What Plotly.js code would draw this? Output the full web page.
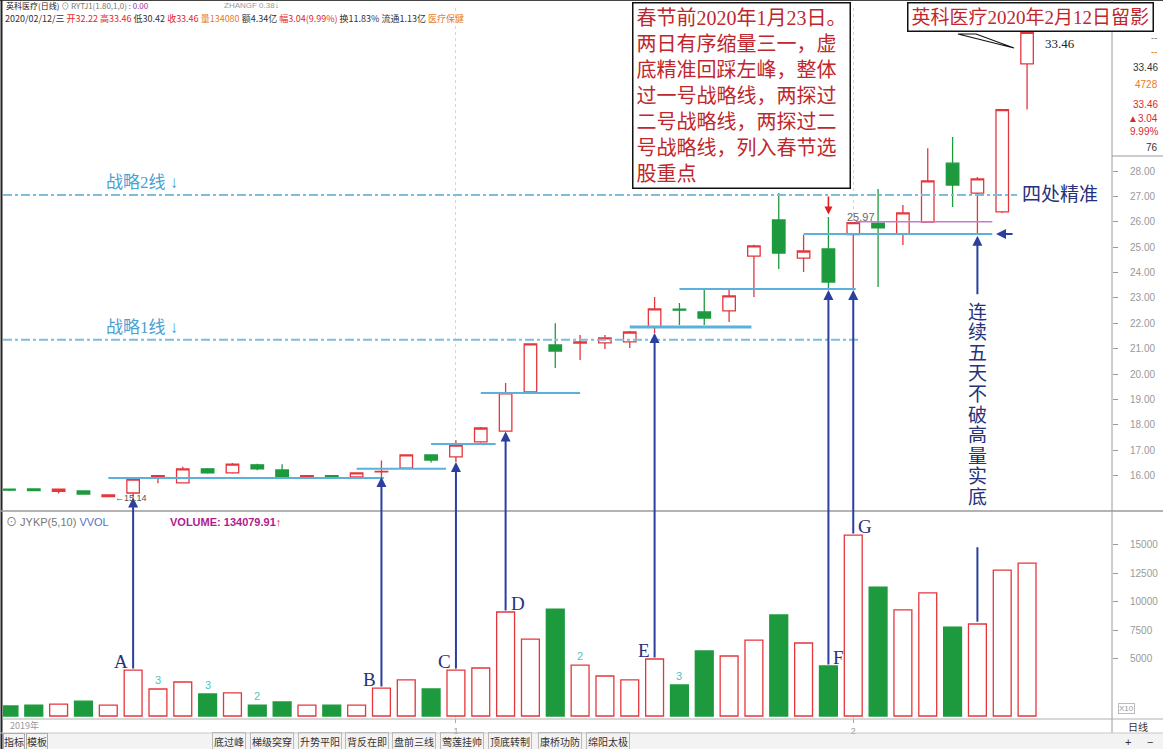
<!DOCTYPE html>
<html><head><meta charset="utf-8">
<script src="https://cdn.plot.ly/plotly-3.0.1.min.js"></script>
<style>html,body{margin:0;padding:0;background:#fff}#chart{width:1163px;height:749px}</style>
</head><body><div id="chart"></div>
<script>
// ---------- DATA ----------
const dates = ['2019-12-06','2019-12-09','2019-12-10','2019-12-11','2019-12-12','2019-12-13','2019-12-16','2019-12-17','2019-12-18','2019-12-19','2019-12-20','2019-12-23','2019-12-24','2019-12-25','2019-12-26','2019-12-27','2019-12-30','2019-12-31',
'2020-01-02','2020-01-03','2020-01-06','2020-01-07','2020-01-08','2020-01-09','2020-01-10','2020-01-13','2020-01-14','2020-01-15','2020-01-16','2020-01-17','2020-01-20','2020-01-21','2020-01-22','2020-01-23',
'2020-02-03','2020-02-04','2020-02-05','2020-02-06','2020-02-07','2020-02-10','2020-02-11','2020-02-12'];
const openP  = [15.47,15.48,15.38,15.40,15.18,15.32,15.91,15.72,16.27,16.11,16.43,16.23,15.95,16.00,15.95,16.15,16.30,16.82,16.74,17.33,17.76,19.30,21.15,21.22,21.23,21.27,21.86,22.56,22.45,22.49,24.65,26.07,24.57,24.93,25.50,25.95,25.52,25.99,28.31,27.13,26.39,32.22];
const highP  = [15.50,15.50,15.50,15.42,15.25,15.87,16.02,16.35,16.30,16.50,16.47,16.45,16.02,16.03,16.13,16.60,16.85,16.85,17.40,17.92,19.65,21.19,22.00,21.54,21.54,21.70,23.04,22.80,23.35,23.35,25.10,27.13,25.48,26.19,25.97,27.29,26.66,28.90,29.34,27.76,30.42,33.46];
const lowP   = [15.40,15.40,15.30,15.26,15.15,15.14,15.70,15.70,16.08,16.08,16.22,15.88,15.90,15.92,15.93,15.95,16.28,16.52,16.54,17.30,17.74,19.28,20.24,20.56,20.99,21.03,21.62,21.94,21.94,22.05,23.04,24.14,24.02,23.31,23.31,23.43,25.09,25.97,26.58,25.55,26.35,30.42];
const closeP = [15.43,15.41,15.47,15.28,15.24,15.87,16.00,16.27,16.11,16.46,16.27,15.91,16.00,15.95,16.11,16.17,16.82,16.62,17.21,17.88,19.26,21.19,20.91,21.27,21.43,21.66,22.57,22.52,22.21,23.08,25.05,24.77,24.85,23.63,25.97,25.76,26.35,27.61,27.45,27.69,30.42,33.46];
const volume = [880,960,1050,1300,960,4030,2370,2980,1930,2020,960,1230,960,960,960,2450,3160,2370,4030,4210,9120,6750,9380,4470,3510,3160,5000,2720,5700,5260,6660,8860,6400,4390,15870,11310,9300,10790,7800,8070,12800,13408];
const priceTicks = [16,17,18,19,20,21,22,23,24,25,26,27,28];
const priceGrid  = [16,18,20,22,24,26,28,30,32];
const volTicks = [5000,7500,10000,12500,15000];
const volGrid  = [5000,10000,15000];
// marked days (A..G) and their labels
const markIdx    = [5,15,18,20,26,33,34];
const markLabels = ['A','B','C','D','E','F','G'];
const markSide   = ['left','left','left','right','left','right','right'];
// small counters above volume bars
const countIdx  = [6,8,10,23,27];
const countText = ['3','3','2','2','3'];
// support lines (index span and price level)
const supStart = [4.0,14.0,17.0,19.0,25.0,27.0,32.0];
const supEnd   = [15.1,17.6,19.6,23.0,29.9,34.1,39.6];
const supLevel = [15.91,16.27,17.25,19.26,21.86,23.35,25.52];
const supWidth = [2,2,2,2,3,2,2];
const pinkLevel = 26.0, pinkStart = 34.1, pinkEnd = 39.6;
// strategic lines
const stratLevel = [27.06,21.35];
const stratEnd   = [40.6,34.3];
const stratText  = ['战略2线 ↓','战略1线 ↓'];
const baseIdx = 39; // 连续五天不破高量实底
const vertText = '连续五天不破高量实底';
const tabs = ['底过峰','梯级突穿','升势平阳','背反在即','盘前三线','莺莲挂帅','顶底转制','康桥功防','绵阳太极'];
const tabCenters = [229,272,320,367,414,462,510,560,608];

// ---------- GEOMETRY ----------
const W=1163,H=749;
const PX_L=3, PX_R=1112;
const X_RANGE=[-0.24,44.42];
const PRICE_PX=[8,510], PRICE_RANGE=[14.65,34.42];
const VOL_PX=[512,718], VOL_RANGE=[-175,17890];
const fx = px => px/W, fy = px => 1 - px/H;
const pyPrice = p => PRICE_PX[0] + (PRICE_RANGE[1]-p)/(PRICE_RANGE[1]-PRICE_RANGE[0])*(PRICE_PX[1]-PRICE_PX[0]);
const pyVol = v => VOL_PX[0] + (VOL_RANGE[1]-v)/(VOL_RANGE[1]-VOL_RANGE[0])*(VOL_PX[1]-VOL_PX[0]);

const idx = dates.map((d,i)=>i);
const RED='#e5363c', GREEN='#1e9a3e', NAVY='#2b3f9e', LBLUE='#5cb0dc';
const monthIdx=[], monthText=[];
dates.forEach((d,i)=>{ if(i>0 && d.slice(5,7)!==dates[i-1].slice(5,7)){ monthIdx.push(i); monthText.push(String(parseInt(d.slice(5,7)))); } });

const up = idx.map(i=>closeP[i]>=openP[i]);

const traces = [
 {type:'candlestick', x:idx, open:openP, high:highP, low:lowP, close:closeP, xaxis:'x', yaxis:'y',
  increasing:{line:{color:RED,width:1.3},fillcolor:'#ffffff'},
  decreasing:{line:{color:GREEN,width:1.3},fillcolor:GREEN},
  whiskerwidth:0, hoverinfo:'skip', showlegend:false},
 {type:'bar', x:idx, y:volume, xaxis:'x2', yaxis:'y2', width:0.72,
  marker:{color:idx.map(i=>up[i]?'#ffffff':GREEN), line:{color:idx.map(i=>up[i]?RED:GREEN), width:1.3}},
  hoverinfo:'skip', showlegend:false}
];

const shapes = [];
const annotations = [];
const SERIF = "Liberation Serif, 'Noto Sans CJK SC', serif";
const SANS = "'Liberation Sans', 'Noto Sans CJK SC', sans-serif";
const CJK = "'Noto Sans CJK SC', sans-serif";

// frame
const pl = (x0,y0,x1,y1,color,width,dash)=>shapes.push({type:'line',xref:'paper',yref:'paper',x0:fx(x0),y0:fy(y0),x1:fx(x1),y1:fy(y1),line:{color,width,dash:dash||'solid'},layer:'above'});
shapes.push({type:'rect',xref:'paper',yref:'paper',x0:0,x1:1,y0:fy(749),y1:fy(733),fillcolor:'#f3f3f3',line:{width:0},layer:'below'});
pl(0,0.5,1163,0.5,'#444',1);
pl(1.5,0,1.5,749,'#222',2);
pl(1112,0,1112,733,'#9a9a9a',1);
pl(0,511,1163,511,'#9a9a9a',1.5);
pl(1112,156,1163,156,'#9a9a9a',1);
pl(3,719,1163,719,'#b0b0b0',1);
pl(0,733,1163,733,'#c8c8c8',1);

// support lines
supLevel.forEach((lv,k)=>shapes.push({type:'line',xref:'x',yref:'y',x0:supStart[k],x1:supEnd[k],y0:lv,y1:lv,line:{color:LBLUE,width:supWidth[k]}}));
shapes.push({type:'line',xref:'x',yref:'y',x0:pinkStart,x1:pinkEnd,y0:pinkLevel,y1:pinkLevel,line:{color:'#c77bd0',width:1.5}});
// strategic lines
stratLevel.forEach((lv,k)=>{
  shapes.push({type:'line',xref:'x',yref:'y',x0:X_RANGE[0],x1:stratEnd[k],y0:lv,y1:lv,line:{color:'#7cbde0',width:2,dash:'dashdot'}});
  annotations.push({xref:'paper',yref:'y',x:fx(104),y:lv,yshift:12,xanchor:'left',yanchor:'middle',text:stratText[k],showarrow:false,font:{family:SERIF,size:17,color:'#4a9fd3'}});
});

// arrows from volume bars up to candles
markIdx.forEach((i,k)=>{
  annotations.push({xref:'x',yref:'y',x:i,y:lowP[i],ax:0,ay:pyVol(volume[i])-pyPrice(lowP[i]),axref:'pixel',ayref:'pixel',
    showarrow:true,arrowhead:2,arrowsize:1,arrowwidth:2,arrowcolor:NAVY,text:'',standoff:0,startstandoff:0});
  const right = markSide[k]==='right';
  annotations.push({xref:'x',yref:'y2',x:i+(right?0.12:-0.12),y:volume[i],xanchor:right?'left':'right',yanchor:'bottom',yshift:-4,
    text:markLabels[k],showarrow:false,font:{family:SERIF,size:19,color:'#26317a'}});
});
// 连续五天 arrow
annotations.push({xref:'x',yref:'y',x:baseIdx,y:lowP[baseIdx]-0.1,ax:0,ay:60,axref:'pixel',ayref:'pixel',showarrow:true,arrowhead:2,arrowsize:1,arrowwidth:2,arrowcolor:NAVY,text:''});
shapes.push({type:'line',xref:'x',yref:'y2',x0:baseIdx,x1:baseIdx,y0:volume[baseIdx]+200,y1:14800,line:{color:NAVY,width:2}});
Array.from(vertText).forEach((ch,k)=>annotations.push({xref:'x',yref:'paper',x:baseIdx,y:fy(312+k*20.6),xanchor:'center',yanchor:'middle',text:ch,showarrow:false,font:{family:SERIF,size:19,color:'#26317a'}}));
// left-pointing arrow at support level
annotations.push({xref:'x',yref:'y',x:39.75,y:supLevel[6],ax:18,ay:0,axref:'pixel',ayref:'pixel',showarrow:true,arrowhead:2,arrowsize:1,arrowwidth:2,arrowcolor:NAVY,text:''});
// red arrow at Jan 23
annotations.push({xref:'x',yref:'y',x:33,y:highP[33]+0.1,ax:0,ay:pyPrice(stratLevel[0])-pyPrice(highP[33]+0.1),axref:'pixel',ayref:'pixel',showarrow:true,arrowhead:2,arrowsize:1,arrowwidth:1.6,arrowcolor:'#e02020',text:''});

// value labels
annotations.push({xref:'x',yref:'y',x:41,y:highP[41],xshift:16,xanchor:'left',yanchor:'top',yshift:-2,text:highP[41].toFixed(2),showarrow:false,font:{family:SERIF,size:13,color:'#222'}});
annotations.push({xref:'x',yref:'y',x:34,y:highP[34],xshift:-8,xanchor:'left',yanchor:'bottom',yshift:-2,text:highP[34].toFixed(2),showarrow:false,font:{family:SANS,size:11,color:'#666'}});
annotations.push({xref:'x',yref:'y',x:5,y:lowP[5],xanchor:'center',yanchor:'middle',xshift:-2,text:'←'+lowP[5].toFixed(2),showarrow:false,font:{family:SANS,size:9,color:'#555'}});

// counters
countIdx.forEach((i,k)=>annotations.push({xref:'x',yref:'y2',x:i,y:volume[i],yanchor:'bottom',yshift:1,text:countText[k],showarrow:false,font:{family:SANS,size:11,color:'#4fc4c4'}}));

// text boxes
annotations.push({xref:'paper',yref:'paper',x:fx(632),y:fy(2),xanchor:'left',yanchor:'top',align:'left',showarrow:false,
  text:'春节前2020年1月23日。<br>两日有序缩量三一，虚<br>底精准回踩左峰，整体<br>过一号战略线，两探过<br>二号战略线，两探过二<br>号战略线，列入春节选<br>股重点',
  font:{family:SERIF,size:20,color:'#c0272d'},bgcolor:'#ffffff',bordercolor:'#111',borderwidth:1.5,borderpad:3});
shapes.push({type:'path',xref:'paper',yref:'paper',path:`M ${fx(958)} ${fy(34)} L ${fx(1014)} ${fy(48)} L ${fx(976)} ${fy(34)} Z`,fillcolor:'#ffffff',line:{color:'#111',width:1.2},layer:'above'});
annotations.push({xref:'paper',yref:'paper',x:fx(907),y:fy(2),xanchor:'left',yanchor:'top',showarrow:false,
  text:'英科医疗2020年2月12日留影',font:{family:SERIF,size:19,color:'#c0272d'},bgcolor:'#ffffff',bordercolor:'#111',borderwidth:1.5,borderpad:3});
annotations.push({xref:'paper',yref:'y',x:fx(1020),y:stratLevel[0],xanchor:'left',yanchor:'middle',showarrow:false,text:'四处精准',font:{family:SERIF,size:19,color:'#26317a'}});

// header
annotations.push({xref:'paper',yref:'paper',x:fx(4),y:fy(6),xanchor:'left',yanchor:'middle',showarrow:false,
  text:'<span style="color:#222">英科医疗(日线)</span> <span style="color:#777">⊙ RYTJ1(1.80,1,0)</span> <span style="color:#a030a0">: 0.00</span>',font:{family:CJK,size:8}});
annotations.push({xref:'paper',yref:'paper',x:fx(222),y:fy(6),xanchor:'left',yanchor:'middle',showarrow:false,
  text:'<span style="color:#999">ZHANGF 0.38</span><span style="color:#1e9a3e">↓</span>',font:{family:SANS,size:8}});
annotations.push({xref:'paper',yref:'paper',x:fx(3),y:fy(19),xanchor:'left',yanchor:'middle',showarrow:false,
  text:'<span style="color:#333">2020/02/12/三</span> <span style="color:#e0282e">开32.22</span> <span style="color:#e0282e">高33.46</span> <span style="color:#333">低30.42</span> <span style="color:#e0282e">收33.46</span> <span style="color:#e87a1e">量134080</span> <span style="color:#333">额4.34亿</span> <span style="color:#e0282e">幅3.04(9.99%)</span> <span style="color:#333">换11.83%</span> <span style="color:#333">流通1.13亿</span> <span style="color:#e87a1e">医疗保健</span>',
  font:{family:CJK,size:9}});
// right info box
[['--',37,'#888'],['--',52,'#e87a1e'],['33.46',68,'#333'],['4728',84,'#e87a1e'],['33.46',104,'#e0282e'],['▲3.04',118,'#e0282e'],['9.99%',131,'#e0282e'],['76',147,'#333']]
 .forEach(t=>annotations.push({xref:'paper',yref:'paper',x:fx(1160),y:fy(t[1]),xanchor:'right',yanchor:'middle',showarrow:false,text:t[0],font:{family:SANS,size:10,color:t[2]}}));
// volume header
annotations.push({xref:'paper',yref:'paper',x:fx(4),y:fy(522),xanchor:'left',yanchor:'middle',showarrow:false,
  text:'<span style="color:#777">⊙ JYKP(5,10)</span> <span style="color:#5a6fc0">VVOL</span>',font:{family:SANS,size:11}});
annotations.push({xref:'paper',yref:'paper',x:fx(168),y:fy(522),xanchor:'left',yanchor:'middle',showarrow:false,
  text:'<b><span style="color:#b0208f">VOLUME: 134079.91</span></b><span style="color:#e0282e">↑</span>',font:{family:SANS,size:11}});
// bottom
annotations.push({xref:'paper',yref:'paper',x:fx(8),y:fy(725),xanchor:'left',yanchor:'middle',showarrow:false,text:'2019年',font:{family:CJK,size:9,color:'#999'}});
annotations.push({xref:'paper',yref:'paper',x:fx(3),y:fy(741),xanchor:'left',yanchor:'middle',showarrow:false,text:'指标',font:{family:CJK,size:10,color:'#333'},bordercolor:'#aaa',borderwidth:1,borderpad:0});
annotations.push({xref:'paper',yref:'paper',x:fx(26),y:fy(741),xanchor:'left',yanchor:'middle',showarrow:false,text:'模板',font:{family:CJK,size:10,color:'#333'},bordercolor:'#aaa',borderwidth:1,borderpad:0});
tabs.forEach((t,k)=>annotations.push({xref:'paper',yref:'paper',x:fx(tabCenters[k]),y:fy(741),xanchor:'center',yanchor:'middle',showarrow:false,text:t,font:{family:CJK,size:10,color:'#333'},bordercolor:'#bbb',borderwidth:1,borderpad:1}));
annotations.push({xref:'paper',yref:'paper',x:fx(1126),y:fy(708),xanchor:'center',yanchor:'middle',showarrow:false,text:'X10',font:{family:SANS,size:8,color:'#999'},bordercolor:'#bbb',borderwidth:1,borderpad:0});
annotations.push({xref:'paper',yref:'paper',x:fx(1138),y:fy(726),xanchor:'center',yanchor:'middle',showarrow:false,text:'日线',font:{family:CJK,size:10,color:'#333'}});
annotations.push({xref:'paper',yref:'paper',x:fx(1128),y:fy(742),xanchor:'center',yanchor:'middle',showarrow:false,text:'+',font:{family:SANS,size:11,color:'#333'}});
annotations.push({xref:'paper',yref:'paper',x:fx(1150),y:fy(742),xanchor:'center',yanchor:'middle',showarrow:false,text:'−',font:{family:SANS,size:11,color:'#333'}});

const tickFont = {family:SANS,size:10,color:'#9a9a9a'};
const layout = {
  width:W,height:H,margin:{l:0,r:0,t:0,b:0,autoexpand:false},
  paper_bgcolor:'#ffffff',plot_bgcolor:'#ffffff',showlegend:false,
  xaxis:{domain:[fx(PX_L),fx(PX_R)],range:X_RANGE,anchor:'y',tickvals:monthIdx,showticklabels:false,ticks:'',
    showgrid:true,gridcolor:'#d5d5d5',griddash:'dot',zeroline:false,showline:false,rangeslider:{visible:false},fixedrange:true},
  xaxis2:{domain:[fx(PX_L),fx(PX_R)],range:X_RANGE,anchor:'y2',tickvals:monthIdx,ticktext:monthText,ticks:'outside',ticklen:4,tickcolor:'#aaa',
    tickfont:{family:SANS,size:9,color:'#999'},showgrid:true,gridcolor:'#d5d5d5',griddash:'dot',zeroline:false,showline:false},
  yaxis:{domain:[fy(PRICE_PX[1]),fy(PRICE_PX[0])],range:PRICE_RANGE,anchor:'x',side:'right',tickvals:priceTicks,ticktext:priceTicks.map(v=>v.toFixed(2)),
    tickfont:tickFont,ticks:'outside',ticklen:5,tickcolor:'#999',ticklabelstandoff:10,showgrid:false,zeroline:false,showline:false,automargin:false},
  yaxis3:{overlaying:'y',anchor:'x',side:'right',range:PRICE_RANGE,tickvals:priceGrid,showticklabels:false,ticks:'',showgrid:true,gridcolor:'#d6d6d6',griddash:'dot',zeroline:false,automargin:false},
  yaxis2:{domain:[fy(VOL_PX[1]),fy(VOL_PX[0])],range:VOL_RANGE,anchor:'x2',side:'right',tickvals:volTicks,ticktext:volTicks.map(String),
    tickfont:tickFont,ticks:'outside',ticklen:5,tickcolor:'#999',ticklabelstandoff:10,showgrid:false,zeroline:false,showline:false,automargin:false},
  yaxis4:{overlaying:'y2',anchor:'x2',side:'right',range:VOL_RANGE,tickvals:volGrid,showticklabels:false,ticks:'',showgrid:true,gridcolor:'#d6d6d6',griddash:'dot',zeroline:false,automargin:false},
  boxgap:0.28,
  shapes:shapes, annotations:annotations
};
Plotly.newPlot('chart',traces,layout,{staticPlot:true,displayModeBar:false});
</script></body></html>
